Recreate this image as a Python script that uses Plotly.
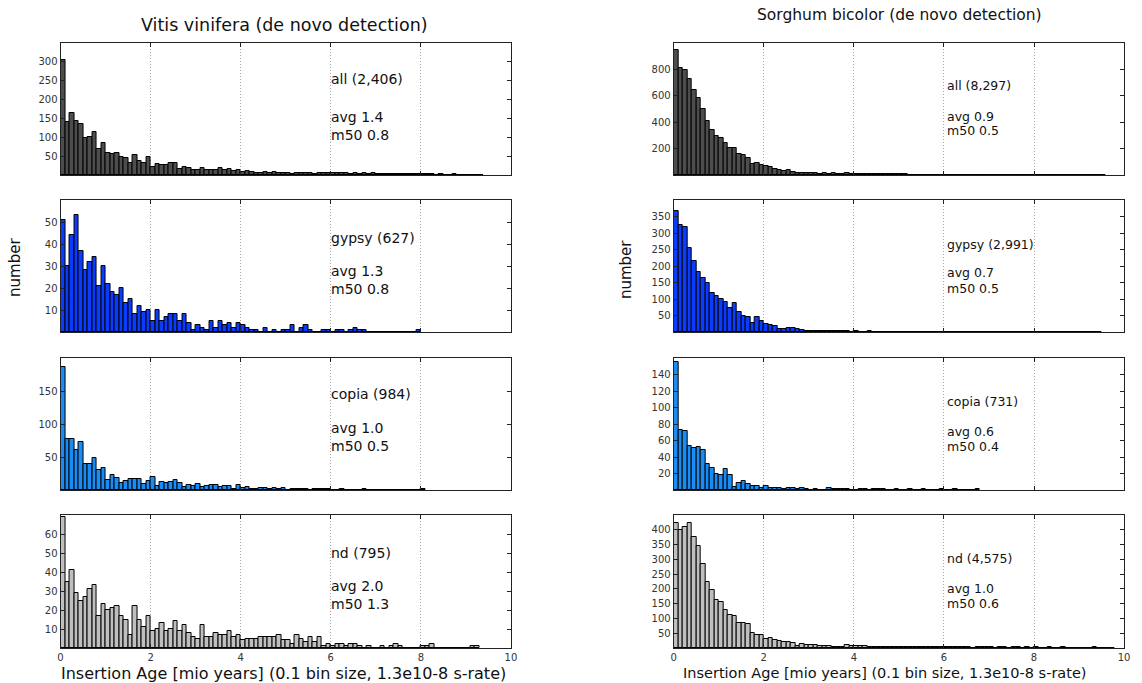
import plotly.graph_objects as go

W, H = 1142, 683
BIN = 0.1  # histogram bin width in mio years

# ---- Vitis vinifera counts per 0.1 bin (starting at 0) ----
vv_all = [304, 140, 165, 142, 135, 97, 101, 113, 68, 85,
          58, 55, 58, 48, 45, 32, 52, 38, 32, 47,
          20, 30, 26, 26, 32, 31, 16, 22, 19, 13,
          12, 18, 13, 14, 12, 18, 13, 17, 10, 14,
          8, 10, 8, 4, 6, 9, 5, 8, 4, 4,
          4, 2, 6, 6, 6, 4, 3, 6, 6, 5,
          4, 5, 4, 4, 3, 5, 3, 4, 3, 4,
          3, 2, 3, 3, 2, 3, 2, 3, 2, 2,
          3, 2, 2, 1, 2, 1, 1, 2, 1, 1,
          0, 1, 0, 1]
vv_gypsy = [51, 30, 44, 53, 37, 28, 32, 34, 21, 30,
            22, 18, 17, 20, 13, 15, 8, 12, 9, 10,
            5, 10, 5, 7, 8, 8, 5, 8, 4, 1,
            3, 2, 1, 5, 2, 5, 3, 4, 2, 4,
            3, 2, 1, 1, 0, 2, 0, 1, 0, 1,
            1, 3, 0, 2, 3, 1, 0, 0, 1, 1,
            0, 1, 1, 0, 1, 2, 1, 1, 0, 0,
            0, 0, 0, 0, 0, 0, 0, 0, 0, 1]
vv_copia = [187, 77, 77, 61, 73, 39, 39, 48, 30, 33,
            15, 22, 18, 11, 14, 17, 17, 17, 9, 13,
            19, 6, 12, 10, 12, 15, 10, 4, 7, 6,
            9, 4, 6, 7, 7, 4, 6, 6, 2, 7,
            3, 4, 2, 1, 3, 3, 1, 3, 1, 3,
            0, 1, 1, 1, 1, 0, 2, 1, 2, 1,
            0, 0, 1, 0, 0, 0, 0, 1, 0, 0,
            0, 0, 0, 0, 0, 0, 0, 0, 0, 0,
            1]
vv_nd = [69, 35, 41, 29, 25, 27, 31, 33, 17, 23,
         20, 21, 22, 17, 15, 7, 22, 15, 11, 17,
         9, 10, 13, 9, 10, 14, 9, 12, 8, 6,
         5, 12, 6, 6, 8, 7, 7, 9, 6, 7,
         4, 5, 5, 5, 6, 6, 6, 6, 7, 4,
         4, 2, 7, 5, 3, 6, 3, 6, 1, 2,
         1, 2, 2, 1, 2, 2, 1, 0, 1, 0,
         0, 1, 0, 1, 2, 1, 0, 0, 0, 0,
         1, 1, 2, 0, 0, 0, 0, 0, 0, 0,
         0, 1, 1]

# ---- Sorghum bicolor counts per 0.1 bin ----
sb_all = [950, 810, 792, 731, 645, 581, 500, 406, 342, 294,
          279, 243, 203, 203, 159, 154, 131, 80, 93, 78,
          65, 58, 48, 35, 32, 35, 22, 17, 17, 17,
          12, 14, 10, 14, 10, 12, 7, 9, 12, 10,
          9, 8, 8, 7, 6, 6, 5, 5, 5, 4,
          4, 4, 3, 3, 3, 3, 3, 3, 2, 2,
          2, 2, 2, 2, 2, 2, 1, 2, 1, 1,
          2, 1, 1, 1, 1, 1, 1, 1, 1, 0,
          1, 1, 0, 1, 0, 1, 0, 1, 0, 1,
          0, 0, 1, 0, 0, 1]
sb_gypsy = [368, 325, 318, 255, 216, 183, 163, 150, 118, 108,
            99, 91, 73, 89, 61, 50, 44, 28, 44, 34,
            24, 21, 17, 10, 10, 13, 12, 9, 7, 4,
            4, 3, 4, 2, 3, 2, 4, 2, 2, 1,
            2, 1, 1, 2, 1, 1, 0, 1, 1, 0,
            1, 1, 0, 0, 1, 0, 0, 0, 1, 0,
            0, 0, 0, 1, 0, 0, 0, 0, 0, 0,
            0, 0, 0, 0, 0, 0, 0, 0, 0, 0,
            0, 0, 0, 0, 0, 0, 0, 0, 0, 0,
            0, 0, 0, 0, 1]
sb_copia = [155, 73, 71, 53, 51, 52, 48, 31, 27, 20,
            18, 25, 18, 4, 9, 11, 7, 5, 5, 2,
            5, 3, 3, 2, 1, 2, 2, 1, 2, 1,
            0, 1, 0, 0, 2, 1, 1, 1, 1, 0,
            0, 1, 1, 0, 1, 1, 1, 0, 0, 1,
            0, 0, 1, 0, 0, 1, 0, 0, 0, 1,
            0, 0, 1, 0, 0, 0, 0, 1]
sb_nd = [422, 399, 408, 422, 377, 345, 283, 225, 195, 163,
         154, 129, 111, 108, 86, 84, 80, 51, 44, 43,
         30, 34, 26, 23, 20, 19, 18, 8, 13, 11,
         10, 9, 7, 8, 7, 4, 3, 4, 9, 8,
         7, 6, 6, 5, 5, 4, 5, 4, 3, 2,
         3, 2, 3, 2, 2, 3, 2, 3, 2, 2,
         3, 2, 2, 3, 2, 2, 1, 2, 3, 2,
         2, 1, 2, 2, 1, 2, 2, 1, 2, 1,
         2, 1, 1, 2, 1, 1, 2, 1, 1, 1,
         0, 1, 1, 2, 1, 1, 0, 1]

# ---- per-panel labels and statistics ----
vv_labels = ["all (2,406)", "gypsy (627)", "copia (984)", "nd (795)"]
vv_avg = ["1.4", "1.3", "1.0", "2.0"]
vv_m50 = ["0.8", "0.8", "0.5", "1.3"]
sb_labels = ["all (8,297)", "gypsy (2,991)", "copia (731)", "nd (4,575)"]
sb_avg = ["0.9", "0.7", "0.6", "1.0"]
sb_m50 = ["0.5", "0.5", "0.4", "0.6"]

class_colors = ["#4d4d4d", "#0a3cff", "#1a8cf5", "#bfbfbf"]

vv_yticks = [[50, 100, 150, 200, 250, 300], [10, 20, 30, 40, 50],
             [50, 100, 150], [10, 20, 30, 40, 50, 60]]
vv_ymax = [350, 60, 200, 70]
sb_yticks = [[200, 400, 600, 800], [50, 100, 150, 200, 250, 300, 350],
             [20, 40, 60, 80, 100, 120, 140],
             [50, 100, 150, 200, 250, 300, 350, 400]]
sb_ymax = [1000, 400, 160, 450]

x_ticks = [0, 2, 4, 6, 8, 10]


def px_x(p):
    return p / W


def px_y(p):
    return 1 - p / H


col_dom = [(58, 512), (676, 1130)]
row_dom = [(43, 175), (200, 332), (358, 490), (515, 648)]
# vertical pixel centres of the three text lines in each panel
vv_text_y = [(79, 117, 135), (238, 271, 289), (394, 428, 446), (553, 586, 604)]
sb_text_y = [(86, 116, 131), (244, 273, 288), (401, 431, 446), (558, 588, 603)]
text_x = [5.95, 6.02]

fig = go.Figure()
layout = {}
annotations = []

species = [
    (vv_all, vv_gypsy, vv_copia, vv_nd),
    (sb_all, sb_gypsy, sb_copia, sb_nd),
]
labels = [vv_labels, sb_labels]
avgs = [vv_avg, sb_avg]
m50s = [vv_m50, sb_m50]
yticks = [vv_yticks, sb_yticks]
ymaxs = [vv_ymax, sb_ymax]
text_ys = [vv_text_y, sb_text_y]
text_sizes = [14, 12.5]

axis_line = "#222222"
tick_font = dict(size=10, color="#333333", family="DejaVu Sans")

k = 0
for c in range(2):
    for r in range(4):
        k += 1
        counts = species[c][r]
        centers = [BIN / 2 + BIN * i for i in range(len(counts))]
        fig.add_trace(go.Bar(
            x=centers, y=counts, width=BIN,
            marker=dict(color=class_colors[r], line=dict(color="black", width=1)),
            xaxis=f"x{k}", yaxis=f"y{k}", showlegend=False,
            hoverinfo="x+y",
        ))
        x0, x1 = col_dom[c]
        y0, y1 = row_dom[r]
        layout[f"xaxis{k}"] = dict(
            domain=[px_x(x0), px_x(x1)], anchor=f"y{k}", range=[0, 10],
            tickvals=x_ticks, showticklabels=(r == 3), tickfont=tick_font,
            showgrid=True, gridcolor="#a8a8a8", griddash="1px,2px", gridwidth=1,
            zeroline=False, showline=True, linecolor=axis_line, linewidth=1,
            mirror="ticks", ticks="inside", ticklen=4, tickcolor=axis_line,
            fixedrange=True,
        )
        layout[f"yaxis{k}"] = dict(
            domain=[px_y(y1), px_y(y0)], anchor=f"x{k}", range=[0, ymaxs[c][r]],
            tickvals=yticks[c][r], tickfont=tick_font, showgrid=False,
            zeroline=False, showline=True, linecolor=axis_line, linewidth=1,
            mirror="ticks", ticks="inside", ticklen=4, tickcolor=axis_line,
            fixedrange=True,
        )
        ty = text_ys[c][r]
        lines = [labels[c][r], f"avg {avgs[c][r]}", f"m50 {m50s[c][r]}"]
        for t, yy in zip(lines, ty):
            annotations.append(dict(
                x=text_x[c], xref=f"x{k}", y=px_y(yy), yref="paper",
                text=t, showarrow=False, xanchor="left", yanchor="middle",
                font=dict(size=text_sizes[c], color="#111111", family="DejaVu Sans"),
            ))

# column titles
annotations.append(dict(x=px_x(284), y=px_y(25), xref="paper", yref="paper",
                        text="Vitis vinifera (de novo detection)", showarrow=False,
                        xanchor="center", yanchor="middle",
                        font=dict(size=17.5, color="#111111", family="DejaVu Sans")))
annotations.append(dict(x=px_x(904), y=px_y(15), xref="paper", yref="paper",
                        text="Sorghum bicolor (de novo detection)", showarrow=False,
                        xanchor="center", yanchor="middle",
                        font=dict(size=15.5, color="#111111", family="DejaVu Sans")))
# y titles
for xx, yy in [(12, 267), (628, 270)]:
    annotations.append(dict(x=px_x(xx), y=px_y(yy), xref="paper", yref="paper",
                            text="number", showarrow=False, textangle=-90,
                            xanchor="center", yanchor="middle",
                            font=dict(size=15, color="#111111", family="DejaVu Sans")))
# x titles
xtitle = "Insertion Age [mio years] (0.1 bin size, 1.3e10-8 s-rate)"
for xx, yy, fs in [(283, 673, 16), (889, 673, 14.5)]:
    annotations.append(dict(x=px_x(xx), y=px_y(yy), xref="paper", yref="paper",
                            text=xtitle, showarrow=False,
                            xanchor="center", yanchor="middle",
                            font=dict(size=fs, color="#111111", family="DejaVu Sans")))

fig.update_layout(
    width=W, height=H, margin=dict(l=0, r=0, t=0, b=0),
    paper_bgcolor="white", plot_bgcolor="white",
    bargap=0, barmode="overlay", showlegend=False,
    font=dict(family="DejaVu Sans"),
    annotations=annotations,
    **layout,
)

fig.write_html("out.html")
